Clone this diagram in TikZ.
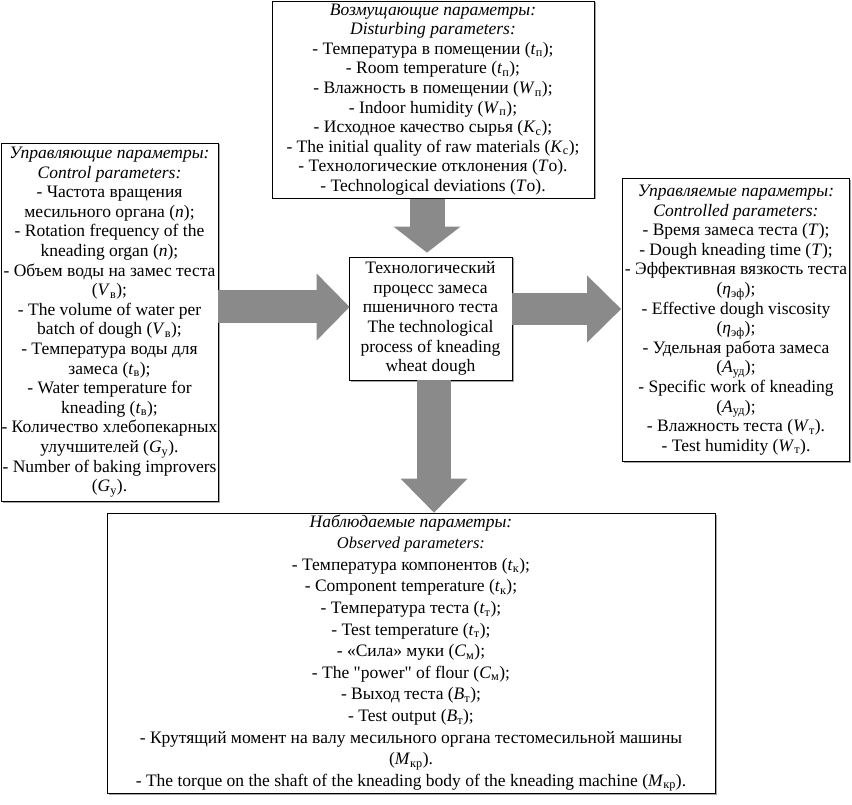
\documentclass[tikz,border=0pt]{standalone}
\usepackage{fontspec}
\setmainfont{Liberation Serif}
\usetikzlibrary{arrows.meta,calc,shadows}
\definecolor{arrowgray}{RGB}{138,138,138}
\newcommand{\vsub}[2]{\textit{#1}\textsubscript{#2}}
\begin{document}
\begin{tikzpicture}[x=1pt,y=-1pt,
  parambox/.style={draw=black, line width=0.8pt, fill=white, align=center, inner sep=0pt,
    font=\fontsize{17.5}{19.6}\selectfont,
    drop shadow={shadow xshift=1.5pt, shadow yshift=-1.5pt, fill=gray!70, opacity=1}},
  bigarrow/.style={draw=arrowgray, line width=#1}
]
\useasboundingbox (0,0) rectangle (852,805);

\node[parambox, minimum width=322, minimum height=197] (top) at (433,99.5) {%
\textit{Возмущающие параметры:}\\
\textit{Disturbing parameters:}\\
- Температура в помещении (\vsub{t}{п});\\
- Room temperature (\vsub{t}{п});\\
- Влажность в помещении (\vsub{W}{п});\\
- Indoor humidity (\vsub{W}{п});\\
- Исходное качество сырья (\vsub{K}{с});\\
- The initial quality of raw materials (\vsub{K}{с});\\
- Технологические отклонения (\textit{T}о).\\
- Technological deviations (\textit{T}о).};

\node[parambox, minimum width=217, minimum height=358] (left) at (109.5,322) {%
\textit{Управляющие параметры:}\\
\textit{Control parameters:}\\
- Частота вращения\\
месильного органа (\textit{n});\\
- Rotation frequency of the\\
kneading organ (\textit{n});\\
- Объем воды на замес теста\\
(\vsub{V}{в});\\
- The volume of water per\\
batch of dough (\vsub{V}{в});\\
- Температура воды для\\
замеса (\vsub{t}{в});\\
- Water temperature for\\
kneading (\vsub{t}{в});\\
- Количество хлебопекарных\\
улучшителей (\vsub{G}{у}).\\
- Number of baking improvers\\
(\vsub{G}{у}).};

\node[parambox, minimum width=163, minimum height=123] (center) at (430.5,318.5) {%
Технологический\\
процесс замеса\\
пшеничного теста\\
The technological\\
process of kneading\\
wheat dough};

\node[parambox, minimum width=227, minimum height=283] (right) at (736,320) {%
\textit{Управляемые параметры:}\\
\textit{Controlled parameters:}\\
- Время замеса теста (\textit{T});\\
- Dough kneading time (\textit{T});\\
- Эффективная вязкость теста\\
(\vsub{η}{эф});\\
- Effective dough viscosity\\
(\vsub{η}{эф});\\
- Удельная работа замеса\\
(\vsub{A}{уд});\\
- Specific work of kneading\\
(\vsub{A}{уд});\\
- Влажность теста (\vsub{W}{т}).\\
- Test humidity (\vsub{W}{т}).};

\node[parambox, minimum width=608, minimum height=280, font=\fontsize{17.5}{21.6}\selectfont] (bottom) at (411,653) {%
\textit{Наблюдаемые параметры:}\\
{\fontsize{16.5}{21.6}\selectfont\textit{Observed parameters:}}\\
- Температура компонентов (\vsub{t}{к});\\
- Component temperature (\vsub{t}{к});\\
- Температура теста (\vsub{t}{т});\\
- Test temperature (\vsub{t}{т});\\
- «Сила» муки (\vsub{C}{м});\\
- The \textquotedbl power\textquotedbl\ of flour (\vsub{C}{м});\\
- Выход теста (\vsub{B}{т});\\
- Test output (\vsub{B}{т});\\
- Крутящий момент на валу месильного органа тестомесильной машины\\
(\vsub{M}{кр}).\\
- The torque on the shaft of the kneading body of the kneading machine (\vsub{M}{кр}).};

% block arrows
\draw[bigarrow=33pt, -{Triangle[width=67pt,length=33pt,line width=0pt]}]
  ($(left.east)+(0,-15)$) -- ($(center.west |- left.east)+(1,-15)$);
\draw[bigarrow=35pt, -{Triangle[width=67pt,length=26pt,line width=0pt]}]
  ($(center.north |- top.south)+(-3.5,0.4)$) -- ($(center.north)+(-3.5,-4)$);
\draw[bigarrow=32pt, -{Triangle[width=67pt,length=34pt,line width=0pt]}]
  ($(center.east)+(0,-9.5)$) -- ($(right.west |- center.east)+(-1,-9.5)$);
\draw[bigarrow=34pt, -{Triangle[width=67pt,length=34pt,line width=0pt]}]
  ($(center.south)+(3.5,0)$) -- ($(center.south |- bottom.north)+(3.5,0)$);
\end{tikzpicture}
\end{document}
